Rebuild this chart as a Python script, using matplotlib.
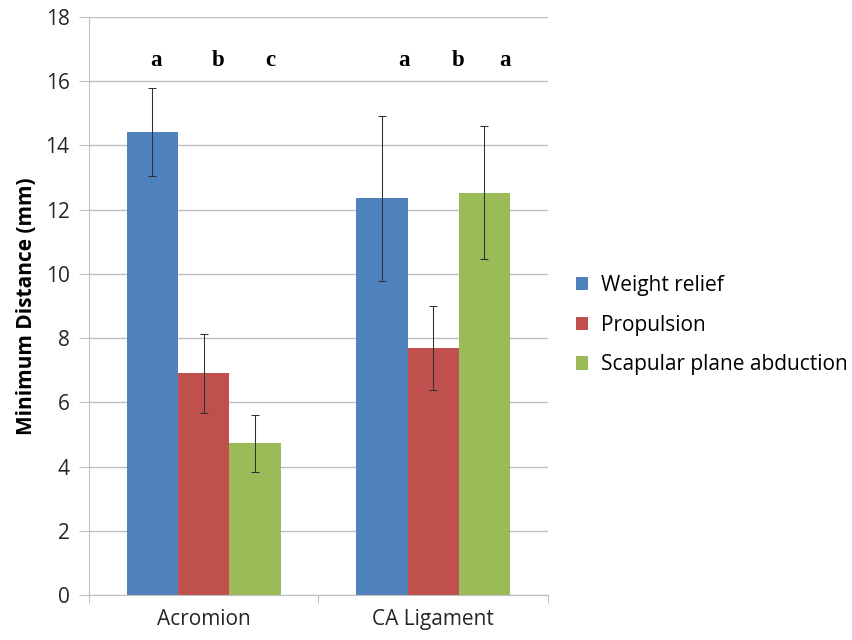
import matplotlib
matplotlib.use("Agg")
import matplotlib.pyplot as plt
import numpy as np

categories = ["Acromion", "CA Ligament"]
series = ["Weight relief", "Propulsion", "Scapular plane abduction"]
weight_relief = [14.42, 12.36]
propulsion = [6.90, 7.68]
scapular = [4.72, 12.53]
weight_relief_err = [1.36, 2.57]
propulsion_err = [1.22, 1.31]
scapular_err = [0.90, 2.07]
sig_letters = [["a", "b", "c"], ["a", "b", "a"]]
yticks = [0, 2, 4, 6, 8, 10, 12, 14, 16, 18]

colors = ["#4F81BD", "#C0504D", "#9BBB59"]
font = ["Open Sans", "DejaVu Sans"]
plt.rcParams['font.family'] = font

fig = plt.figure(figsize=(8.53, 6.4), dpi=100)
ax = fig.add_axes([0.1043, 0.0703, 0.538, 0.9031])

x = np.arange(len(categories))
w = 0.2235
vals = [weight_relief, propulsion, scapular]
errs = [weight_relief_err, propulsion_err, scapular_err]
for i, (v, e) in enumerate(zip(vals, errs)):
    ax.bar(x + (i - 1) * w, v, width=w, color=colors[i], label=series[i], zorder=2)
    ax.errorbar(x + (i - 1) * w, v, yerr=e, fmt="none", ecolor="#303030",
                elinewidth=0.75, capsize=3, capthick=0.75, zorder=3)

letter_offsets = [[-0.208, 0.062, 0.289], [-0.127, 0.108, 0.313]]
for ci in range(len(categories)):
    for j, lt in enumerate(sig_letters[ci]):
        ax.text(x[ci] + letter_offsets[ci][j], 16.66, lt, ha="center", va="center",
                fontsize=16.5, fontweight="bold", family=["Liberation Serif"])

ax.set_xlim(-0.5, 1.5)
ax.set_ylim(0, 18)
ax.set_yticks(yticks)
ax.set_yticklabels([str(t) for t in yticks], fontsize=15, color="#262626")
ax.set_xticks([-0.5, 0.5, 1.5], minor=False)
ax.set_xticklabels([])
ax.set_xticks(x, minor=True)
ax.set_xticklabels(categories, minor=True, fontsize=15, color="#262626")
ax.tick_params(axis="x", which="major", length=6, color="#BFBFBF", direction="out")
ax.tick_params(axis="x", which="minor", length=0, pad=10)
ax.tick_params(axis="y", length=7, color="#BFBFBF", pad=7)
ax.grid(axis="y", color="#BFBFBF", linewidth=1.0, zorder=0)
ax.set_axisbelow(True)
for s in ["top", "right"]:
    ax.spines[s].set_visible(False)
ax.spines["left"].set_color("#BFBFBF")
ax.spines["bottom"].set_color("#BFBFBF")
ax.set_ylabel("Minimum Distance (mm)", fontsize=15, fontweight="bold", labelpad=6)

leg = ax.legend(loc="center left", bbox_to_anchor=(1.02, 0.467), frameon=False,
                fontsize=15, handlelength=0.6, handleheight=0.6, labelspacing=0.9,
                handletextpad=0.6)

fig.savefig("out.png", dpi=100)
